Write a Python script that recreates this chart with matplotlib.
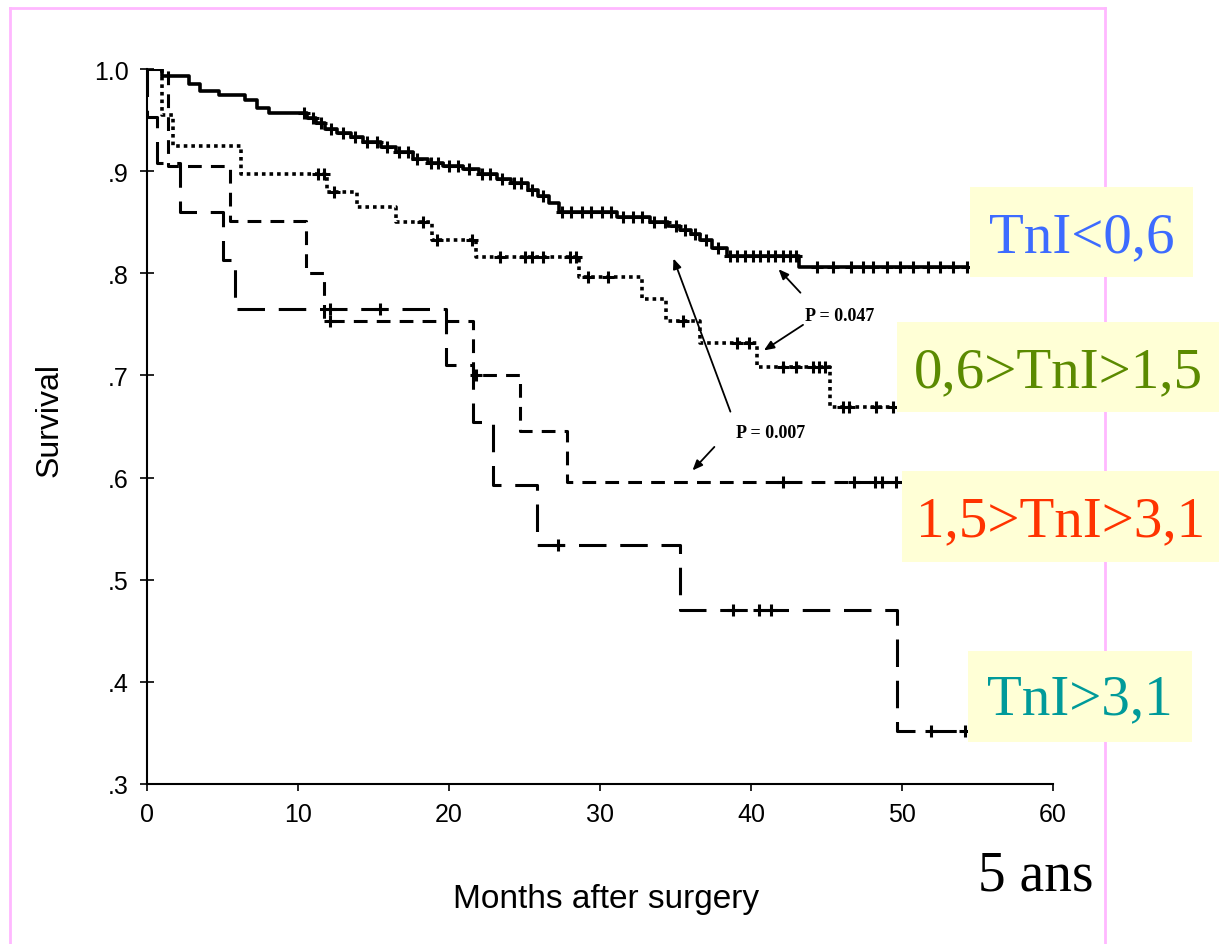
import numpy as np
import matplotlib
matplotlib.use("Agg")
import matplotlib.pyplot as plt
from matplotlib.lines import Line2D
from matplotlib.patches import Rectangle

W, H = 1219, 945

# Kaplan-Meier steps (months, survival after the step)
low_t = [0, 1.0, 2.8, 3.5, 4.8, 6.5, 7.3, 8.1, 10.6, 11.2, 11.8, 12.6, 13.5, 14.3,
         15.5, 16.5, 17.6, 18.6, 19.6, 20.9, 22.0, 23.2, 24.1, 25.2, 25.9, 26.6,
         27.3, 31.1, 33.3, 34.5, 35.3, 36.0, 36.6, 37.4, 38.4, 43.2, 54.3]
low_s = [1.0, 0.993, 0.985, 0.978, 0.975, 0.970, 0.962, 0.957, 0.952, 0.947, 0.941,
         0.937, 0.933, 0.929, 0.924, 0.919, 0.912, 0.908, 0.905, 0.902, 0.897, 0.892,
         0.888, 0.882, 0.876, 0.869, 0.860, 0.855, 0.850, 0.846, 0.842, 0.838, 0.833,
         0.825, 0.817, 0.806, 0.806]
low_cens = [10.4, 11.0, 11.5, 12.2, 13.0, 13.8, 14.6, 15.2, 15.9, 16.7, 17.3, 17.9,
            18.8, 19.3, 20.0, 20.6, 21.3, 22.2, 22.7, 23.5, 24.3, 24.8, 25.5, 26.2,
            27.5, 28.1, 28.8, 29.4, 30.1, 30.7, 31.5, 32.2, 32.8, 33.6, 34.3, 35.0,
            35.6, 36.3, 37.0, 37.8, 38.6, 39.1, 39.6, 40.1, 40.6, 41.1, 41.6, 42.1,
            42.6, 43.0, 44.4, 45.4, 46.6, 47.4, 48.1, 49.0, 49.9, 50.7, 51.7, 52.5,
            53.4, 54.3]

mid_t = [0, 1.0, 1.7, 6.2, 11.9, 13.9, 16.5, 18.9, 21.8, 28.6, 32.8, 34.4, 36.6,
         40.4, 45.2, 49.5]
mid_s = [1.0, 0.955, 0.925, 0.897, 0.880, 0.865, 0.850, 0.833, 0.816, 0.796, 0.775,
         0.753, 0.732, 0.708, 0.669, 0.669]
mid_cens = [11.3, 11.7, 12.4, 18.3, 19.2, 21.5, 23.4, 25.0, 25.5, 26.2, 28.0, 28.4,
            29.2, 30.5, 35.5, 39.1, 39.9, 42.1, 43.0, 44.1, 44.5, 44.9, 46.1, 46.5,
            48.3, 49.4]

high_t = [0, 1.4, 5.5, 10.5, 11.7, 21.6, 24.7, 27.8, 49.7]
high_s = [1.0, 0.905, 0.851, 0.800, 0.753, 0.700, 0.646, 0.596, 0.596]
high_cens = [12.1, 21.8, 42.1, 46.8, 48.2, 48.7, 49.6]

vhigh_t = [0, 0, 0.65, 2.2, 5.0, 5.8, 19.8, 21.6, 22.9, 25.8, 35.3, 49.7, 54.2]
vhigh_s = [1.0, 0.953, 0.908, 0.860, 0.813, 0.765, 0.710, 0.654, 0.593, 0.534,
           0.470, 0.352, 0.352]
vhigh_cens = [12.1, 15.4, 27.2, 38.8, 40.5, 41.3, 51.9, 54.2]

labels = ["TnI<0,6", "0,6>TnI>1,5", "1,5>TnI>3,1", "TnI>3,1"]
label_colors = ["#3d6bff", "#5b8a00", "#ff3300", "#009a9a"]


def step_at(t, times, surv):
    i = np.searchsorted(times, t, side="right") - 1
    return np.asarray(surv)[i]


def fx(px):
    return px / W


def fy(py):
    return 1 - py / H


fig = plt.figure(figsize=(W / 100, H / 100), dpi=100)

# pink slide frame
for xs, ys in [((10, 1105), (9, 9)), ((10, 10), (9, 945)), ((1105, 1105), (9, 945))]:
    fig.add_artist(Line2D([fx(x) for x in xs], [fy(y) for y in ys],
                          color="#ffb8ff", lw=2, zorder=0))

ax = fig.add_axes([fx(147), fy(785), (1053 - 147) / W, (785 - 70) / H])

styles = [
    (low_t, low_s, low_cens, "-", 2.6),
    (mid_t, mid_s, mid_cens, (0, (1, 1.1)), 2.6),
    (high_t, high_s, high_cens, (0, (4.5, 3)), 2.2),
    (vhigh_t, vhigh_s, vhigh_cens, (0, (9, 4.5)), 2.2),
]
for t, s, cens, ls, lw in styles:
    ax.plot(t, s, drawstyle="steps-post", color="black", lw=lw, linestyle=ls)
    ax.plot(cens, [step_at(c, t, s) for c in cens], linestyle="none",
            marker="+", ms=8, mew=2.2, color="black")

ax.set_xlim(0, 60)
ax.set_ylim(0.3, 1.0)
ax.set_xticks(range(0, 61, 10))
ax.set_yticks([0.3, 0.4, 0.5, 0.6, 0.7, 0.8, 0.9, 1.0])
ax.set_yticklabels([".3", ".4", ".5", ".6", ".7", ".8", ".9", "1.0"])
for sp in ["top", "right"]:
    ax.spines[sp].set_visible(False)
for sp in ["left", "bottom"]:
    ax.spines[sp].set_linewidth(1.5)
ax.tick_params(axis="y", direction="inout", length=10, width=1.2, pad=8,
               labelsize=18, labelfontfamily="Liberation Sans")
ax.tick_params(axis="x", direction="out", length=5, width=1.2, pad=8,
               labelsize=18, labelfontfamily="Liberation Sans")

fig.text(fx(50), fy(420), "Survival", rotation=90, ha="center", va="center",
         fontsize=23, family="Liberation Sans")
fig.text(fx(606), fy(900), "Months after surgery", ha="center", va="center",
         fontsize=24, family="Liberation Sans")
fig.text(fx(1036), fy(877), "5 ans", ha="center", va="center",
         fontsize=40, family="Liberation Serif")

# p-values with arrows (data coords)
pkw = dict(fontsize=13, fontweight="bold", family="Liberation Serif",
           ha="center", va="center")
akw = dict(arrowstyle="-|>,head_length=0.6,head_width=0.25", color="black", lw=1.3)
ax.text(45.9, 0.759, "P = 0.047", **pkw)
ax.annotate("", xy=(41.7, 0.806), xytext=(43.4, 0.779), arrowprops=akw)
ax.annotate("", xy=(40.7, 0.723), xytext=(43.6, 0.751), arrowprops=akw)
ax.text(41.3, 0.644, "P = 0.007", **pkw)
ax.annotate("", xy=(34.8, 0.817), xytext=(38.7, 0.662), arrowprops=akw)
ax.annotate("", xy=(36.0, 0.605), xytext=(37.7, 0.632), arrowprops=akw)

# coloured group labels on pale yellow boxes (pixel layout)
boxes = [(970, 188, 1193, 278, 1082, 238),
         (897, 323, 1219, 413, 1058, 373),
         (902, 472, 1219, 563, 1061, 522),
         (968, 652, 1192, 743, 1080, 700)]
for (x0, y0, x1, y1, tx, ty), lab, col in zip(boxes, labels, label_colors):
    fig.add_artist(Rectangle((fx(x0), fy(y1)), fx(x1) - fx(x0), fy(y0) - fy(y1),
                             transform=fig.transFigure, facecolor="#ffffd6",
                             edgecolor="none", zorder=2))
    fig.text(fx(tx), fy(ty), lab, color=col, ha="center", va="center",
             fontsize=41, family="Liberation Serif", zorder=3)

fig.savefig("out.png", dpi=100)
